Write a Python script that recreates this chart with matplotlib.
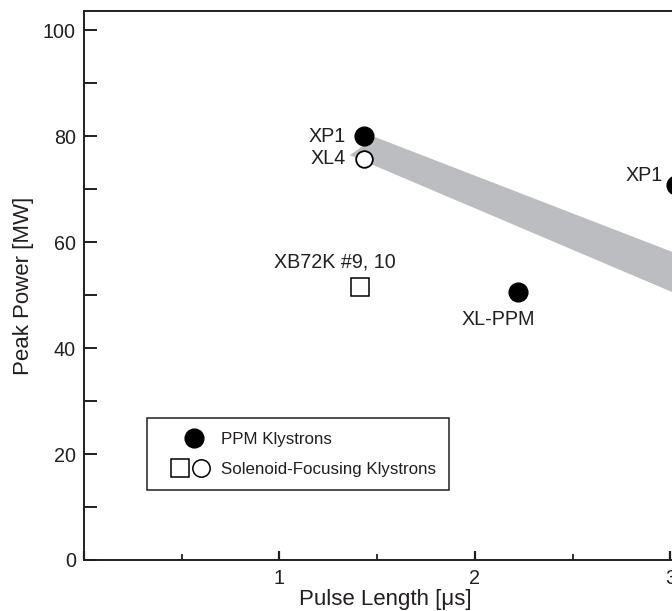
import matplotlib
matplotlib.use("Agg")
import matplotlib.pyplot as plt
from matplotlib.lines import Line2D
from matplotlib.legend_handler import HandlerTuple
from matplotlib.patches import Polygon
import numpy as np

plt.rcParams['font.family'] = ['Liberation Sans', 'DejaVu Sans']

# klystron results: pulse length [us], peak power [MW]
ppm_names = ["XP1", "XL-PPM", "XP1"]
ppm_len = [1.43, 2.22, 3.03]
ppm_pow = [80.0, 50.6, 70.8]

sol_circ_names = ["XL4"]
sol_circ_len = [1.43]
sol_circ_pow = [75.7]

sol_sq_names = ["XB72K #9, 10"]
sol_sq_len = [1.41]
sol_sq_pow = [51.5]

# shaded trend band (left end slanted), outline in data units
band_len = [1.49, 3.30, 3.30, 1.36]
band_pow = [79.8, 54.0, 46.0, 76.4]

ink = "#231f20"

fig = plt.figure(figsize=(6.72, 6.11), dpi=100)
# axes run past the right edge of the figure
ax = fig.add_axes([0.125, 0.0835, 1.018, 0.8985])
ax.set_xlim(0, 3.5)
ax.set_ylim(0, 103.6)

ax.add_patch(Polygon(np.column_stack([band_len, band_pow]), closed=True,
                     facecolor="#bcbdc0", edgecolor="none", zorder=1))

ax.plot(ppm_len, ppm_pow, "o", ms=13.5, color="black", zorder=3)
ax.plot(sol_circ_len, sol_circ_pow, "o", ms=12, mfc="white", mec="black", mew=1.3, zorder=3)
ax.plot(sol_sq_len, sol_sq_pow, "s", ms=12.5, mfc="white", mec="black", mew=1.1, zorder=3)

lab = dict(fontsize=14.2, color=ink)
ax.text(ppm_len[0] - 0.09, ppm_pow[0], ppm_names[0], ha="right", va="center", **lab)
ax.text(sol_circ_len[0] - 0.09, sol_circ_pow[0], sol_circ_names[0], ha="right", va="center", **lab)
ax.text(sol_sq_len[0] - 0.125, sol_sq_pow[0] + 4.7, sol_sq_names[0], ha="center", va="center", **lab)
ax.text(ppm_len[1] - 0.1, ppm_pow[1] - 5.3, ppm_names[1], ha="center", va="center", **lab)
ax.text(ppm_len[2] - 0.07, ppm_pow[2] + 1.8, ppm_names[2], ha="right", va="center", **lab)

# spines and ticks
for s in ["top", "left", "bottom", "right"]:
    ax.spines[s].set_linewidth(1.4)
    ax.spines[s].set_color(ink)

ax.set_xticks([0, 1, 2, 3])
ax.set_xticklabels(["", "1", "2", "3"])
ax.set_xticks([0.5, 1.5, 2.5], minor=True)
ax.set_yticks([0, 20, 40, 60, 80, 100])
ax.set_yticks([10, 30, 50, 70, 90], minor=True)
ax.tick_params(axis="y", which="both", direction="in", length=9.5, width=1.4,
               labelsize=14.2, pad=5.8, colors=ink)
ax.tick_params(axis="x", which="major", direction="in", length=6.5, width=1.6,
               labelsize=14.2, pad=6.5, colors=ink)
ax.tick_params(axis="x", which="minor", direction="in", length=4, width=1.3, colors=ink)

ax.set_xlabel("Pulse Length [\u03bcs]", fontsize=16, color=ink)
ax.xaxis.set_label_coords(0.44, -0.053)
ax.set_ylabel("Peak Power [MW]", fontsize=16, color=ink)
ax.yaxis.set_label_coords(-0.073, 0.5)

# legend: two marker slots per row, PPM dot sits in the right slot
h_blank = Line2D([], [], ls="none", marker="none")
h_ppm = Line2D([], [], ls="none", marker="o", ms=13.5, color="black")
h_sq = Line2D([], [], ls="none", marker="s", ms=12.5, mfc="white", mec="black", mew=1.1)
h_ci = Line2D([], [], ls="none", marker="o", ms=12.5, mfc="white", mec="black", mew=1.1)
ppm_entry = (h_blank, h_ppm)
sol_entry = (h_sq, h_ci)
leg = ax.legend([ppm_entry, sol_entry],
                ["PPM Klystrons", "Solenoid-Focusing Klystrons"],
                handler_map={ppm_entry: HandlerTuple(ndivide=None, pad=-2.74),
                             tuple: HandlerTuple(ndivide=None, pad=-1.09)},
                loc="lower left", bbox_to_anchor=(0.092, 0.1275), fancybox=False,
                edgecolor=ink, framealpha=1, fontsize=12.2, handlelength=3.57,
                handletextpad=0.0, borderpad=0.78, labelspacing=0.9, borderaxespad=0)
leg.get_frame().set_linewidth(1.1)
for t in leg.get_texts():
    t.set_color(ink)

fig.savefig("out.png", dpi=100)
